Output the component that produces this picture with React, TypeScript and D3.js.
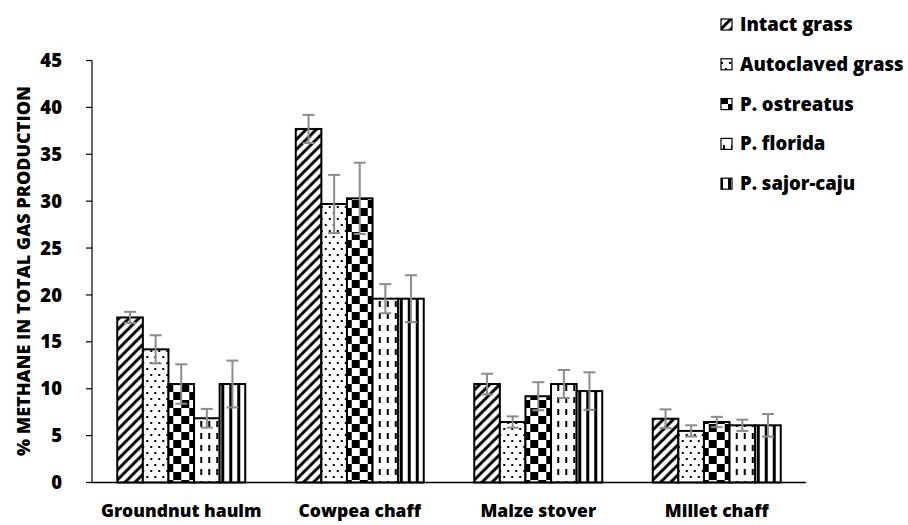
import React from "react";
import * as d3 from "d3";

const categories = ["Groundnut haulm", "Cowpea chaff", "Maize stover", "Millet chaff"];
const seriesNames = ["Intact grass", "Autoclaved grass", "P. ostreatus", "P. florida", "P. sajor-caju"];
const intact = [17.6, 37.7, 10.5, 6.8];
const autoclaved = [14.2, 29.7, 6.45, 5.5];
const ostreatus = [10.5, 30.3, 9.2, 6.45];
const florida = [6.85, 19.6, 10.5, 6.1];
const sajorCaju = [10.5, 19.6, 9.75, 6.1];
const intactErr = [0.6, 1.5, 1.1, 1.0];
const autoclavedErr = [1.5, 3.1, 0.6, 0.6];
const ostreatusErr = [2.1, 3.8, 1.5, 0.55];
const floridaErr = [1.0, 1.55, 1.5, 0.6];
const sajorCajuErr = [2.5, 2.5, 2.0, 1.2];
const yTicks = [0, 5, 10, 15, 20, 25, 30, 35, 40, 45];

const seriesValues = [intact, autoclaved, ostreatus, florida, sajorCaju];
const seriesErrs = [intactErr, autoclavedErr, ostreatusErr, floridaErr, sajorCajuErr];
const patternIds = ["pDiag", "pDots", "pCheck", "pDash", "pVert"];

const W = 908, H = 525;
const plotLeft = 92, plotRight = 806, plotTop = 60.5, plotBottom = 482.5;
const FONT = "'Open Sans', Lato, sans-serif";
const FW = 800;

export default function App() {
  const x0 = d3.scaleBand<string>().domain(categories).range([plotLeft, plotRight]).paddingInner(0.283).paddingOuter(0.1415);
  const x1 = d3.scaleBand<string>().domain(seriesNames).range([0, x0.bandwidth()]).padding(0);
  const y = d3.scaleLinear().domain([0, 45]).range([plotBottom, plotTop]);
  const errColor = "#8c8c8c";

  return (
    <svg width={W} height={H} style={{ position: "absolute", left: 0, top: 0, background: "#fff" }}>
      <defs>
        <pattern id="pDiag" patternUnits="userSpaceOnUse" width="10" height="10">
          <rect width="10" height="10" fill="#fff" />
          <path d="M-2.5,2.5 L2.5,-2.5 M0,10 L10,0 M7.5,12.5 L12.5,7.5" stroke="#000" strokeWidth="3" />
        </pattern>
        <pattern id="pDots" patternUnits="userSpaceOnUse" width="8" height="12">
          <rect width="8" height="12" fill="#fff" />
          <rect x="1" y="2" width="2" height="2" fill="#000" />
          <rect x="5" y="8" width="2" height="2" fill="#000" />
        </pattern>
        <pattern id="pCheck" patternUnits="userSpaceOnUse" width="16" height="16">
          <rect width="16" height="16" fill="#fff" />
          <rect x="0" y="0" width="8" height="8" fill="#000" />
          <rect x="8" y="8" width="8" height="8" fill="#000" />
        </pattern>
        <pattern id="pDash" patternUnits="userSpaceOnUse" width="8" height="12">
          <rect width="8" height="12" fill="#fff" />
          <rect x="3" y="1" width="2" height="6" fill="#000" />
        </pattern>
        <pattern id="pVert" patternUnits="userSpaceOnUse" width="8" height="8">
          <rect width="8" height="8" fill="#fff" />
          <rect x="0" y="0" width="3" height="8" fill="#000" />
        </pattern>
      </defs>

      {/* y axis */}
      <line x1={plotLeft} x2={plotLeft} y1={plotTop} y2={plotBottom} stroke="#000" strokeWidth={1.2} />
      {yTicks.map((t) => (
        <g key={t}>
          <line x1={plotLeft - 6} x2={plotLeft} y1={y(t)} y2={y(t)} stroke="#000" strokeWidth={1.2} />
          <text x={62} y={y(t)} dy="0.36em" textAnchor="end" fontFamily={FONT} fontWeight={FW} fontSize={18.5} fill="#000">
            {t}
          </text>
        </g>
      ))}
      <text
        transform="translate(24,271) rotate(-90)"
        textAnchor="middle"
        dy="0.36em"
        fontFamily={FONT}
        fontWeight={FW}
        fontSize={18}
        fill="#000"
      >
        % METHANE IN TOTAL GAS PRODUCTION
      </text>

      {/* bars */}
      {categories.map((c, ci) => (
        <g key={c} transform={`translate(${x0(c)},0)`}>
          {seriesNames.map((s, si) => {
            const v = seriesValues[si][ci];
            return (
              <rect
                key={s}
                x={x1(s)}
                y={y(v)}
                width={x1.bandwidth()}
                height={plotBottom - y(v)}
                fill={`url(#${patternIds[si]})`}
                stroke="#000"
                strokeWidth={2}
              />
            );
          })}
          {seriesNames.map((s, si) => {
            const v = seriesValues[si][ci];
            const e = seriesErrs[si][ci];
            const cx = (x1(s) as number) + x1.bandwidth() / 2;
            return (
              <g key={s + "e"} stroke={errColor} strokeWidth={2}>
                <line x1={cx} x2={cx} y1={y(v + e)} y2={y(v - e)} />
                <line x1={cx - 6} x2={cx + 6} y1={y(v + e)} y2={y(v + e)} />
                <line x1={cx - 6} x2={cx + 6} y1={y(v - e)} y2={y(v - e)} />
              </g>
            );
          })}
        </g>
      ))}

      {/* x axis */}
      <line x1={plotLeft} x2={plotRight} y1={plotBottom} y2={plotBottom} stroke="#000" strokeWidth={1.5} />
      {categories.map((c) => (
        <text
          key={c}
          x={(x0(c) as number) + x0.bandwidth() / 2}
          y={517}
          textAnchor="middle"
          fontFamily={FONT}
          fontWeight={FW}
          fontSize={17.5}
          fill="#000"
        >
          {c}
        </text>
      ))}

      {/* legend */}
      {seriesNames.map((s, si) => {
        const by = 31 + si * 39.8;
        return (
          <g key={s}>
            <rect x={721} y={by - 12} width={11} height={11} fill={`url(#${patternIds[si]})`} stroke="#000" strokeWidth={1.2} />
            <text x={740} y={by} fontFamily={FONT} fontWeight={FW} fontSize={18.5} fill="#000">
              {s}
            </text>
          </g>
        );
      })}
    </svg>
  );
}
